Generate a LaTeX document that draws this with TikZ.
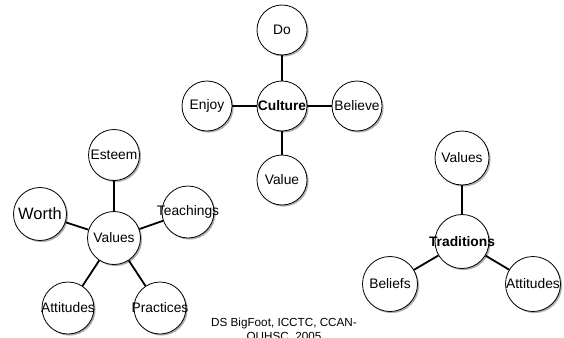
\documentclass[tikz,border=0pt]{standalone}
\usepackage{fontspec}
\setmainfont{Liberation Sans}
\usetikzlibrary{shadows}
\begin{document}
\begin{tikzpicture}[x=1pt,y=-1pt,
  bub/.style={circle,draw=black,line width=0.8pt,fill=white,inner sep=0pt,minimum size=#1,
    drop shadow={shadow xshift=1.6pt,shadow yshift=-1.6pt,fill=black!45,opacity=0.7}},
  lbl/.style={inner sep=0pt,font=\fontsize{13.8}{15}\selectfont},
  blbl/.style={inner sep=0pt,font=\fontsize{13.8}{15}\selectfont\bfseries},
  link/.style={line width=1.8pt,black}]
\fill[white] (0,0) rectangle (564,337);
\useasboundingbox (0,0) rectangle (564,337);
% Culture cluster
\node[bub=50] (cDo) at (282,30) {};
\node[bub=50] (cCul) at (282,106) {};
\node[bub=50] (cEnj) at (207,106) {};
\node[bub=50] (cBel) at (357,106) {};
\node[bub=50] (cVal) at (282,180) {};
\draw[link] (cCul) -- (cDo);
\draw[link] (cCul) -- (cEnj);
\draw[link] (cCul) -- (cBel);
\draw[link] (cCul) -- (cVal);
\node[lbl] (tDo) at (cDo) {Do};
\node[blbl] (tCul) at (cCul) {Culture};
\node[lbl] (tEnj) at (cEnj) {Enjoy};
\node[lbl] (tBel) at (cBel) {Believe};
\node[lbl] (tVal) at (cVal) {Value};
% Values cluster
\node[bub=51] (vEst) at (114,155) {};
\node[bub=53] (vWor) at (40,214) {};
\node[bub=53] (vVal) at (114,238) {};
\node[bub=52] (vTea) at (188,212) {};
\node[bub=52] (vAtt) at (68,308) {};
\node[bub=52] (vPra) at (160,308) {};
\draw[link] (vVal) -- (vEst);
\draw[link] (vVal) -- (vWor);
\draw[link] (vVal) -- (vTea);
\draw[link] (vVal) -- (vAtt);
\draw[link] (vVal) -- (vPra);
\node[lbl] (tEst) at (vEst) {Esteem};
\node[inner sep=0pt,font=\fontsize{16.5}{18}\selectfont] (tWor) at (vWor) {Worth};
\node[lbl] (tVVal) at (vVal) {Values};
\node[lbl] (tTea) at (vTea) {Teachings};
\node[lbl] (tAtt) at (vAtt) {Attitudes};
\node[lbl] (tPra) at (vPra) {Practices};
% Traditions cluster
\node[bub=54] (rVal) at (462,158) {};
\node[bub=54] (rTra) at (462,241.5) {};
\node[bub=55] (rBel) at (390,284) {};
\node[bub=55] (rAtt) at (533,284) {};
\draw[link] (rTra) -- (rVal);
\draw[link] (rTra) -- (rBel);
\draw[link] (rTra) -- (rAtt);
\node[lbl] (tRVal) at (rVal) {Values};
\node[blbl] (tTra) at (rTra) {Traditions};
\node[lbl] (tRBel) at (rBel) {Beliefs};
\node[lbl] (tRAtt) at (rAtt) {Attitudes};
% credit
\node[inner sep=0pt,anchor=north,align=center,font=\fontsize{11.7}{13.5}\selectfont] (credit) at (284,318) {DS BigFoot, ICCTC, CCAN-\\OUHSC, 2005};
\end{tikzpicture}
\end{document}
